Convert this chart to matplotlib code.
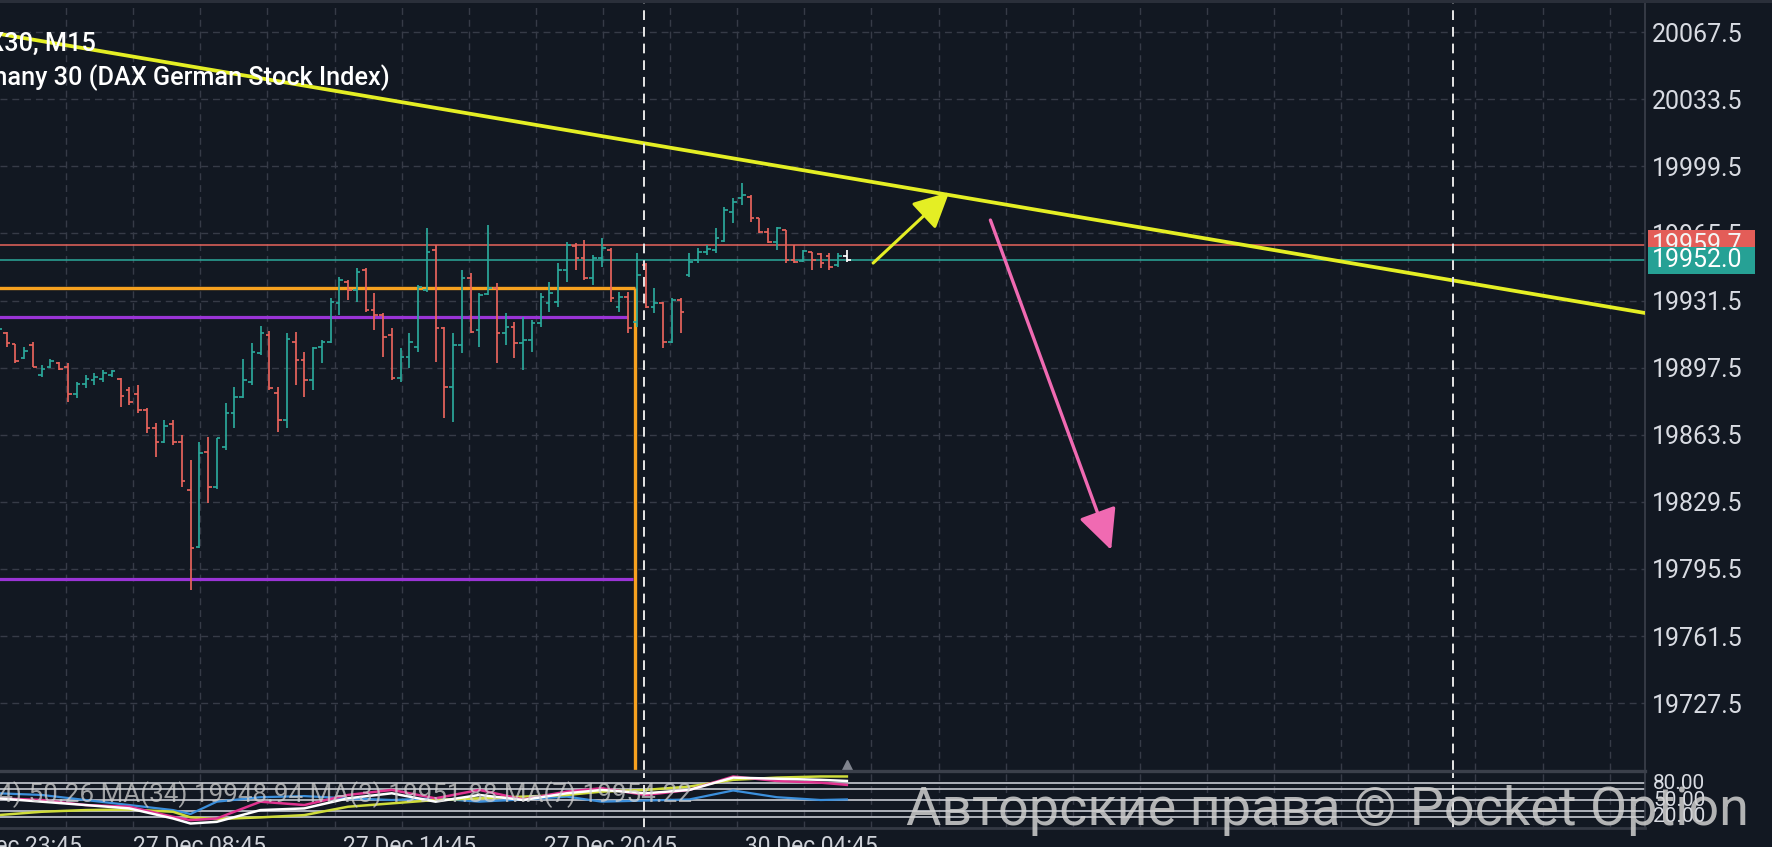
import matplotlib
matplotlib.use('Agg')
import matplotlib.pyplot as plt
import matplotlib.transforms as mtrans
from matplotlib.patches import Rectangle, FancyArrowPatch
import numpy as np

plt.rcParams['font.family'] = ['Roboto', 'DejaVu Sans']
plt.rcParams['lines.scale_dashes'] = False

# ---------------- data ----------------
opens = [19906, 19900.5, 19915, 19909.5, 19902.5, 19909, 19894, 19898, 19900, 19898,
         19884, 19889, 19891, 19892, 19894, 19892, 19886, 19884, 19876, 19867,
         19860, 19869, 19860, 19835.5, 19806.6, 19854.8, 19837, 19857.5, 19874.5, 19882.7,
         19890.2, 19904.9, 19914.1, 19884.7, 19871, 19910.5, 19901.4, 19891.3, 19908, 19910.5,
         19930.3, 19940.9, 19936.9, 19947, 19926.7, 19924.2, 19914.1, 19892.3, 19902.9, 19908,
         19936.9, 19957.1, 19917.6, 19887.7, 19909, 19942.9, 19916.6, 19935, 19937.9, 19915.1,
         19918.1, 19910, 19911.5, 19920.1, 19930.3, 19930.8, 19947, 19959.2, 19953.1, 19942.9,
         19953.1, 19957.1, 19928.2, 19933.3, 19920.6, 19949.5, 19928.2, 19930.3, 19910.5, 19931.8,
         19944.5, 19952.1, 19956.1, 19957.1, 19961.8, 19976.4, 19983.5, 19984, 19973.3, 19966.2,
         19961.2, 19967.3, 19952.1, 19951.6, 19956.1, 19955, 19954, 19949.5, 19954.1]
highs = [19907.5, 19918.1, 19915.6, 19909.5, 19908, 19910.5, 19898.9, 19901.9, 19900.4, 19899.9,
         19890.2, 19893.8, 19894.8, 19896.3, 19896.3, 19892.3, 19887.7, 19888.7, 19877.1, 19869.5,
         19871, 19871, 19863.4, 19850.7, 19860, 19862.4, 19862, 19879.7, 19887.7, 19901.9,
         19910, 19918.6, 19916, 19887.7, 19915.1, 19915.6, 19905.5, 19908, 19911.5, 19932.8,
         19943.4, 19941.9, 19948, 19948, 19935.3, 19925.2, 19917.6, 19907.5, 19915.1, 19939.4,
         19968.3, 19959.7, 19918, 19915.1, 19947, 19945.5, 19935.3, 19969.8, 19940.4, 19925.2,
         19920.6, 19923.2, 19921.7, 19935.3, 19940.9, 19950.5, 19961.2, 19960.7, 19962.2, 19954.6,
         19963.2, 19958, 19935.8, 19935.8, 19955.6, 19950.5, 19937.9, 19930.8, 19932.8, 19932.8,
         19955.6, 19958.1, 19959.7, 19968.3, 19978.9, 19983.5, 19991.1, 19985, 19973.3, 19968.3,
         19968.8, 19967.3, 19959.7, 19957.1, 19956.1, 19955.6, 19955.6, 19955.6, 19957.1]
lows = [19899.9, 19899.9, 19908, 19899.9, 19902, 19897.8, 19892.8, 19897.5, 19896.3, 19880.1,
        19882.1, 19887.2, 19888.7, 19890.2, 19892.8, 19877.6, 19878.6, 19874.5, 19864.4, 19852.2,
        19859.3, 19858.3, 19837.1, 19784.9, 19806, 19829, 19836, 19855.8, 19866.9, 19882,
        19888.7, 19904, 19886.2, 19864.9, 19866.9, 19888.7, 19882.6, 19886.2, 19899.9, 19910,
        19924.2, 19931.8, 19930.8, 19925.7, 19916.6, 19902.9, 19891.3, 19890.2, 19897.3, 19905.5,
        19935.8, 19900.4, 19872, 19870, 19904.9, 19915.1, 19908, 19934.5, 19899.9, 19909,
        19902.4, 19896.3, 19905.5, 19918.1, 19925.7, 19928.2, 19940.9, 19947, 19941.9, 19939.4,
        19948.5, 19930.8, 19925.7, 19915.1, 19918.1, 19927.7, 19925.2, 19907.5, 19910, 19915.1,
        19943.4, 19950.5, 19954.6, 19955.6, 19961.2, 19970.8, 19979.9, 19971.3, 19965.7, 19960.7,
        19957.1, 19950.5, 19950.5, 19951.1, 19947, 19948, 19947, 19948.5, 19951.1]
closes = [19900.5, 19917, 19910, 19901, 19906, 19898, 19897, 19901, 19897, 19884,
          19889, 19892, 19893, 19895, 19896, 19883, 19880, 19876, 19867, 19860,
          19868, 19860, 19840, 19806, 19854, 19837, 19861.9, 19874.5, 19882.7, 19891.3,
          19905.5, 19915.1, 19887.2, 19871, 19912, 19901.4, 19891.3, 19907.5, 19910.5, 19930.8,
          19941.9, 19936.9, 19946, 19926.7, 19924.2, 19913.1, 19892.3, 19902.9, 19910.5, 19938.4,
          19956.1, 19917.6, 19887.7, 19909, 19942.9, 19915.6, 19934.3, 19938, 19915.1, 19918.1,
          19910, 19911.5, 19920.1, 19933.3, 19935.3, 19947, 19959.7, 19953.1, 19942.9, 19953.1,
          19958.1, 19932.8, 19933.3, 19917.6, 19944.5, 19928.2, 19930.3, 19910.5, 19931.8, 19925.7,
          19951.1, 19956.1, 19957.6, 19963.2, 19977.4, 19981.4, 19985, 19973.3, 19966.2, 19961.2,
          19968.3, 19952.1, 19951.1, 19956.6, 19952.1, 19950.5, 19948.5, 19954.1, 19952.0]

price_ticks = [19727.5, 19761.5, 19795.5, 19829.5, 19863.5, 19897.5,
               19931.5, 19965.5, 19999.5, 20033.5, 20067.5]
time_labels = ['26 Dec 23:45', '27 Dec 08:45', '27 Dec 14:45', '27 Dec 20:45', '30 Dec 04:45']
time_label_bars = [3, 24, 48, 71, 94]

ask_price = 19959.7
bid_price = 19952.0
orange_level = 19938.0
purple_high = 19923.4
purple_low = 19790.4
orange_end_bar = 73.8
purple_high_end_bar = 73.0
purple_low_end_bar = 73.6
crosshair_bars = [74.8, 167.3]
trend_start = (0, 20067.5)
trend_end = (190, 19924.6)
yellow_arrow = ((101.0, 19950.5), (109.7, 19986.5))
pink_arrow = ((114.4, 19972.3), (128.2, 19805.1))

# indicator panel (0..100 scale)
ind_bars = [1, 6, 11, 16, 21, 23, 26, 31, 36, 41, 46, 51, 56, 61, 66, 70, 75, 80, 85, 90, 95, 98]
rsi_blue = [62, 59, 50, 41, 32, 25, 47, 55, 57, 53, 50, 53, 47, 51, 56, 47, 49, 51, 67, 55, 50, 51]
ma_white = [53, 47, 41, 35, 17, 8, 11, 32, 35, 53, 62, 47, 59, 50, 62, 68, 62, 68, 90, 88, 86, 84]
ma_magenta = [53, 50, 41, 38, 20, 14, 17, 47, 41, 59, 68, 53, 68, 51, 65, 71, 59, 68, 92, 84, 81, 77]
ma_yellow = [23, 29, 32, 33, 29, 19, 16, 19, 23, 38, 44, 50, 53, 56, 59, 65, 68, 74, 86, 90, 92, 92]
ind_levels = [80, 70, 50, 30, 20]
ind_level_labels = ['80.00', '50.00', '20.00']
ind_label_levels = [80, 50, 20]
ind_text = 'RSI(14) 50.26 MA(34) 19948.94 MA(3) 19951.88 MA(7) 19954.22'

# ---------------- style ----------------
W, H = 1772, 847
BG = '#121822'
GRID = '#363b47'
TEAL = '#2ba89b'
RED = '#e8645c'
ORANGE = '#f7a11f'
PURPLE = '#9a34d6'
YELLOW = '#e4ee24'
PINK = '#f06ab2'
TXT = '#d8dbe2'

fig = plt.figure(figsize=(W / 100, H / 100), dpi=100, facecolor=BG)
AX_R = 1645 / W
ax = fig.add_axes([0, (H - 770) / H, AX_R, (770 - 3) / H], facecolor=BG)
ax2 = fig.add_axes([0, (H - 828) / H, AX_R, (828 - 772) / H], facecolor=BG, sharex=ax)

n = len(opens)
idx = np.arange(n)
o = np.array(opens); c = np.array(closes)
cols = [TEAL if c[i] >= o[i] else RED for i in range(n)]
cols[-1] = '#ffffff'

ax.set_xlim(1.23, 189.2)
ax.set_ylim(19693.6, 20082.3)
ax2.set_ylim(0, 100)

# grid
grid_bars = [8.78 + 7.669 * k for k in range(24)]
for t in price_ticks:
    ax.axhline(t, color=GRID, lw=1.0, ls=(0, (5, 3.5)), zorder=0.5)
for g in grid_bars:
    ax.axvline(g, color=GRID, lw=1.0, ls=(0, (5, 3.5)), zorder=0.5)
    ax2.axvline(g, color=GRID, lw=1.0, ls=(0, (5, 3.5)), zorder=0.5)

# level lines
ax.axhline(ask_price, color=RED, lw=1.1, zorder=1)
ax.axhline(bid_price, color=TEAL, lw=1.1, zorder=1)
ax.hlines(orange_level, -5, orange_end_bar, color=ORANGE, lw=2.4, zorder=1.2)
ax.vlines(orange_end_bar, 19600, orange_level, color=ORANGE, lw=2.4, zorder=1.2)
ax.hlines(purple_high, -5, purple_high_end_bar, color=PURPLE, lw=2.3, zorder=1.2)
ax.hlines(purple_low, -5, purple_low_end_bar, color=PURPLE, lw=2.3, zorder=1.2)

# OHLC bars
ax.vlines(idx, lows, highs, colors=cols, lw=1.25, zorder=2)
ax.hlines(opens, idx - 0.42, idx, colors=cols, lw=1.25, zorder=2)
ax.hlines(closes, idx, idx + 0.42, colors=cols, lw=1.25, zorder=2)

# trend line
ax.plot([trend_start[0], trend_end[0]], [trend_start[1], trend_end[1]], color=YELLOW, lw=2.7,
        solid_capstyle='butt', zorder=3)

# arrows
ax.add_patch(FancyArrowPatch(yellow_arrow[0], yellow_arrow[1],
                             arrowstyle='-|>,head_length=1.1,head_width=0.55', mutation_scale=20,
                             lw=2.2, color=YELLOW, shrinkA=0, shrinkB=0, zorder=4))
ax.add_patch(FancyArrowPatch(pink_arrow[0], pink_arrow[1],
                             arrowstyle='-|>,head_length=1.25,head_width=0.6', mutation_scale=20,
                             lw=2.4, color=PINK, shrinkA=0, shrinkB=0, zorder=4))

# crosshair dashed lines
for cb in crosshair_bars:
    ax.axvline(cb, color='#e6e6e6', lw=1.4, ls=(0, (7, 5)), zorder=3.5)
    ax2.axvline(cb, color='#e6e6e6', lw=1.4, ls=(0, (7, 5)), zorder=3.5)

# small triangle marker
ax.plot([idx[-1]], [19695.7], marker='^', ms=9, color='#80848e', clip_on=False, zorder=5)

# axes styling
for a in (ax, ax2):
    for s in ('left', 'top', 'bottom'):
        a.spines[s].set_visible(False)
    a.spines['right'].set_color('#3b404b')
    a.spines['right'].set_linewidth(1.2)

ax.yaxis.tick_right()
ax.set_yticks(price_ticks)
ax.set_yticklabels([f'{t:.1f}' for t in price_ticks])
ax.tick_params(axis='y', length=0, pad=5, labelsize=18, labelcolor=TXT)
ax.tick_params(axis='x', length=0, labelbottom=False)

ax2.set_yticks([])
ax2.set_xticks(time_label_bars)
ax2.set_xticklabels(time_labels)
ax2.tick_params(axis='x', length=0, pad=5, labelsize=16.5, labelcolor='#cfd2d9')

# price tags
bt = mtrans.blended_transform_factory(ax.transAxes, ax.transData)
ax.add_patch(Rectangle((1.0018, ask_price - 7.6), 0.065, 15.2, transform=bt, clip_on=False,
                       facecolor='#e35d58', edgecolor='none', zorder=10))
ax.text(1.0045, ask_price, f'{ask_price:.1f}', transform=bt, ha='left', va='center',
        fontsize=18, color='#f4f4f4', clip_on=False, zorder=11)
ax.add_patch(Rectangle((1.0018, bid_price - 6.8), 0.065, 13.6, transform=bt, clip_on=False,
                       facecolor='#26a195', edgecolor='none', zorder=12))
ax.text(1.0045, bid_price, f'{bid_price:.1f}', transform=bt, ha='left', va='center',
        fontsize=18, color='#ffffff', clip_on=False, zorder=13)

# indicator panel
for lv in ind_levels:
    ax2.axhline(lv, color='#b9bcc4', lw=1.3, zorder=1)
ax2.plot(ind_bars, rsi_blue, color='#3b8fdc', lw=1.6, zorder=2)
ax2.plot(ind_bars, ma_yellow, color='#cfdc3a', lw=1.8, zorder=2.1)
ax2.plot(ind_bars, ma_magenta, color='#e0338f', lw=1.8, zorder=2.2)
ax2.plot(ind_bars, ma_white, color='#ffffff', lw=1.8, zorder=2.3)
bt2 = mtrans.blended_transform_factory(ax2.transAxes, ax2.transData)
for lab, lv in zip(ind_level_labels, ind_label_levels):
    ax2.text(1.005, lv, lab, transform=bt2, ha='left', va='center', fontsize=15,
             color=TXT, clip_on=False)

# panel separators / borders
fig.add_artist(plt.Line2D([0, AX_R], [(H - 770.5) / H] * 2, color='#3b404b', lw=2.4))
fig.add_artist(plt.Line2D([0, AX_R], [(H - 827.5) / H] * 2, color='#343944', lw=2.0))
fig.add_artist(Rectangle((0, 1 - 3 / H), 1, 3 / H, transform=fig.transFigure,
                         facecolor='#2a2f3a', edgecolor='none'))

# texts
r = fig.canvas.get_renderer()
t1 = fig.text(96 / W, (H - 50.5) / H, 'DAX30, M15', ha='right', va='baseline',
              fontsize=18.2, color='#ffffff', fontweight='medium', zorder=20)
t2 = fig.text(390 / W, (H - 85) / H, 'Germany 30 (DAX German Stock Index)', ha='right',
              va='baseline', fontsize=18.2, color='#ffffff', fontweight='medium', zorder=20)

it = fig.text(692 / W, (H - 802.5) / H, ind_text, ha='right', va='baseline', fontsize=18.7,
              color='#d0d0d0', alpha=0.75, zorder=20)

wm = fig.text(906 / W, (H - 825) / H, 'Авторские права © Pocket Option', ha='left',
              va='baseline', fontsize=34, color='#cfcfcf', alpha=0.85, zorder=25)
bb = wm.get_window_extent(r)
wm.set_fontsize(34 * 845 / bb.width)

fig.savefig('out.png', dpi=100, facecolor=BG)
